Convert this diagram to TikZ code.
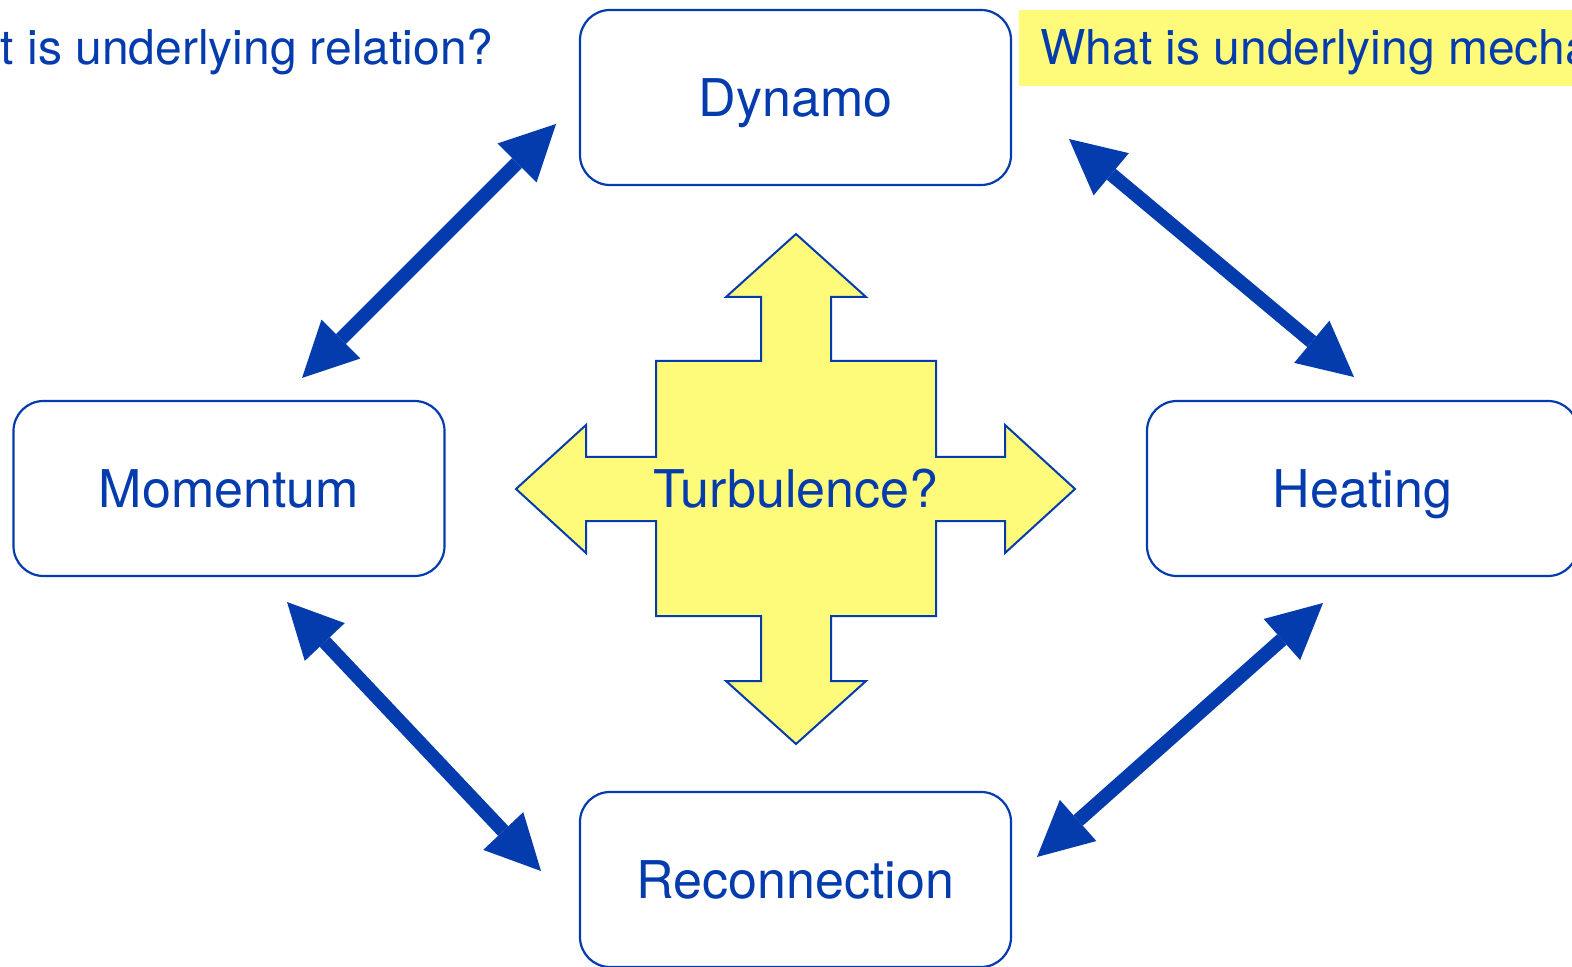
\documentclass[tikz,border=0pt]{standalone}
\usepackage{fontspec}
\setmainfont{TeX Gyre Heros}
\usetikzlibrary{arrows.meta}
\definecolor{ink}{RGB}{4,60,174}
\definecolor{lemon}{RGB}{255,251,122}
\begin{document}
\begin{tikzpicture}[x=0.5pt,y=-0.5pt,
  label text/.style={text=ink, font=\fontsize{26}{30}\selectfont,
    text height=18.7pt, text depth=0pt, inner sep=0pt},
  box/.style={label text, draw=ink, line width=1.1pt, rounded corners=15pt, fill=white,
    minimum width=215.5pt, minimum height=87.5pt},
  link/.style={draw=ink, line width=7pt,
    {Triangle[length=27.5pt,width=27.5pt,line width=0pt]}-{Triangle[length=27.5pt,width=27.5pt,line width=0pt]}},
  question/.style={text=ink, font=\fontsize{24}{28}\selectfont, inner sep=0pt},
  crossshape/.style={draw=ink, fill=lemon, line width=1pt, line join=miter},
]
\useasboundingbox (0,0) rectangle (1572,967);
\clip (0,0) rectangle (1572,967);

% questions along the top edge
\node[question, anchor=base east] (relq) at (494,65) {What is underlying relation?};
\fill[lemon] (1019,10) rectangle (1600,86);
\node[question, anchor=base west] (mechq) at (1040,65) {What is underlying mechanism?};

% the four topics
\node[box] (dyn) at (795.5,97.5) {Dynamo};
\node[box] (mom) at (229,488.5) {Momentum};
\node[box] (heat) at (1362.5,488.5) {Heating};
\node[box] (rec) at (795.5,879.5) {Reconnection};

% four-way arrow in the middle
\draw[crossshape] (796,234) -- (866,297) -- (831,297) -- (831,361) -- (936,361)
  -- (936,457) -- (1005,457) -- (1005,425) -- (1075,489) -- (1005,553) -- (1005,521)
  -- (936,521) -- (936,616) -- (831,616) -- (831,681) -- (866,681) -- (796,744)
  -- (726,681) -- (761,681) -- (761,616) -- (656,616) -- (656,521) -- (586,521)
  -- (586,553) -- (516,489) -- (586,425) -- (586,457) -- (656,457) -- (656,361)
  -- (761,361) -- (761,297) -- (726,297) -- cycle;
\node[label text] (turb) at (796,489) {Turbulence?};

% double-headed links between the topics
\coordinate (dm1) at (556,124);  \coordinate (dm2) at (302,378);
\coordinate (dh1) at (1069,139); \coordinate (dh2) at (1354,377);
\coordinate (mr1) at (287,602);  \coordinate (mr2) at (541,871);
\coordinate (hr1) at (1323,603); \coordinate (hr2) at (1037,857);
\draw[link] (dm1) -- (dm2);
\draw[link] (dh1) -- (dh2);
\draw[link] (mr1) -- (mr2);
\draw[link] (hr1) -- (hr2);
\end{tikzpicture}
\end{document}
